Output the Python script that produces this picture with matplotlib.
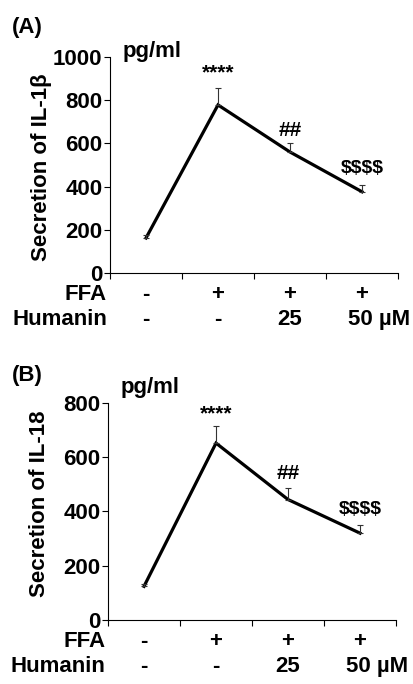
import matplotlib
matplotlib.use('Agg')
import matplotlib.pyplot as plt

plt.rcParams['font.family'] = ['Liberation Sans', 'DejaVu Sans']
plt.rcParams['font.weight'] = 'bold'
plt.rcParams['text.parse_math'] = False

# groups: control, FFA, FFA + Humanin 25, FFA + Humanin 50
x_pos = [0, 1, 2, 3]
ffa_row = ['-', '+', '+', '+']
humanin_row = ['-', '-', '25', '50']

il1b_mean = [162, 778, 560, 376]
il1b_err = [12, 80, 42, 30]
il18_mean = [124, 652, 444, 320]
il18_err = [10, 64, 44, 30]

marks = ['', '****', '##', '$$$$']
mark_size = [0, 15, 15, 14]
mark_y_a = [0, 925, 660, 486]
mark_y_b = [0, 760, 540, 408]

fig = plt.figure(figsize=(4.14, 6.84), dpi=100)


def draw_panel(rect, means, errs, ymax, yticks, mark_y, ylabel, letter, letter_y, pg_y, label_x, label_y):
    ax = fig.add_axes(rect)
    ax.plot(x_pos, means, color='black', lw=2.3, solid_joinstyle='miter')
    ax.errorbar(x_pos, means, yerr=[[0] * 4, errs], fmt='none', ecolor='#333333',
                elinewidth=0.8, capsize=2.5, capthick=0.8)
    ax.set_xlim(-0.5, 3.5)
    ax.set_ylim(0, ymax)
    ax.set_yticks(yticks)
    ax.set_xticks([-0.5, 0.5, 1.5, 2.5, 3.5])
    ax.set_xticklabels([])
    ax.spines['top'].set_visible(False)
    ax.spines['right'].set_visible(False)
    ax.tick_params(axis='y', direction='out', length=4, width=0.8, labelsize=16, pad=1.5)
    ax.tick_params(axis='x', direction='out', length=4, width=0.8)
    for lab in ax.get_yticklabels():
        lab.set_fontweight('bold')
    for xi, m, ms, my in zip(x_pos, marks, mark_size, mark_y):
        if m:
            ax.text(xi, my, m, ha='center', va='center', fontsize=ms, fontweight='bold')
    # treatment rows under the axis
    for xi, f, h in zip(x_pos, ffa_row, humanin_row):
        ax.text(xi, -0.10, f, transform=ax.get_xaxis_transform(), ha='center', va='center',
                fontsize=16, fontweight='bold')
        if h == '50':
            ax.text(xi - 0.2, -0.215, '50 \u00b5M', transform=ax.get_xaxis_transform(),
                    ha='left', va='center', fontsize=16, fontweight='bold')
        else:
            ax.text(xi, -0.215, h, transform=ax.get_xaxis_transform(), ha='center', va='center',
                    fontsize=16, fontweight='bold')
    ax.text(-0.01, -0.10, 'FFA', transform=ax.transAxes, ha='right', va='center',
            fontsize=16, fontweight='bold')
    ax.text(-0.01, -0.215, 'Humanin', transform=ax.transAxes, ha='right', va='center',
            fontsize=16, fontweight='bold')
    fig.text(label_x, label_y, ylabel, rotation=90, ha='center', va='center',
             fontsize=16, fontweight='bold')
    fig.text(0.028, letter_y, letter, ha='left', va='center', fontsize=16, fontweight='bold')
    fig.text(rect[0] + 0.031, pg_y, 'pg/ml', ha='left', va='center', fontsize=16, fontweight='bold')
    return ax


draw_panel([0.2657, 0.6009, 0.6957, 0.3158], il1b_mean, il1b_err, 1000,
           [0, 200, 400, 600, 800, 1000], mark_y_a, 'Secretion of IL-1\u03b2',
           '(A)', 1 - 27 / 684, 1 - 52 / 684, 42 / 414, 1 - 167 / 684)
draw_panel([0.2609, 0.0936, 0.6957, 0.3173], il18_mean, il18_err, 800,
           [0, 200, 400, 600, 800], mark_y_b, 'Secretion of IL-18',
           '(B)', 1 - 375 / 684, 1 - 387 / 684, 40 / 414, 1 - 504 / 684)

fig.savefig('out.png', dpi=100)
